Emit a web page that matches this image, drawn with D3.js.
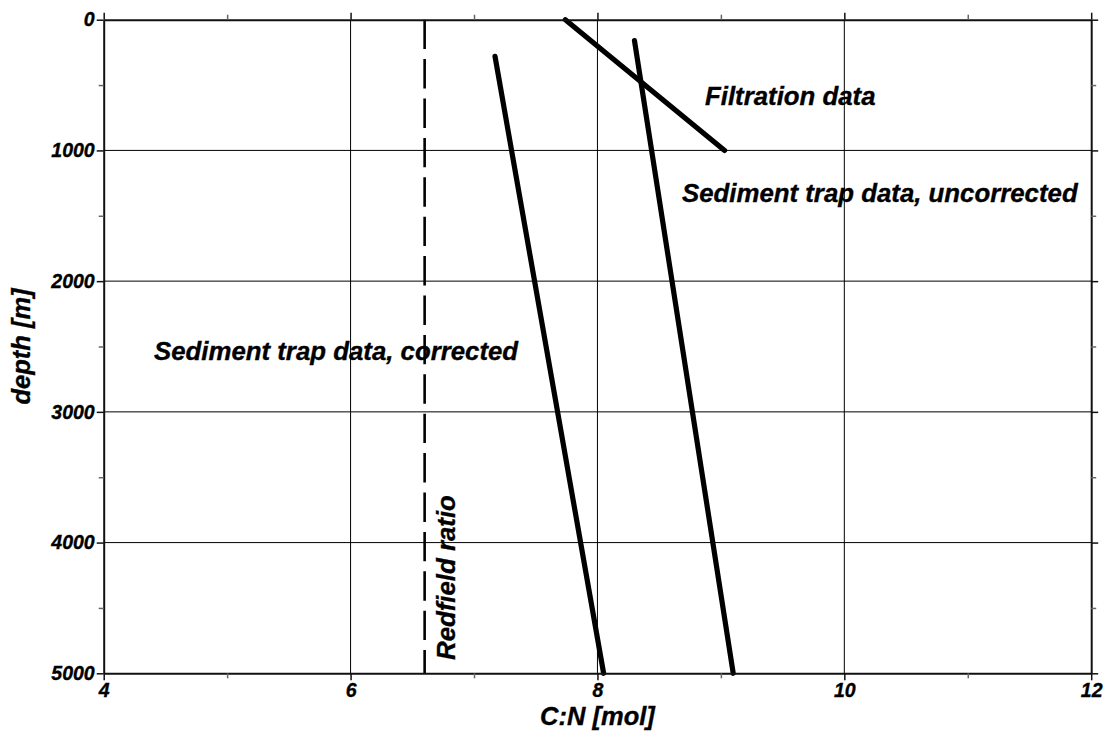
<!DOCTYPE html>
<html>
<head>
<meta charset="utf-8">
<script src="https://cdn.jsdelivr.net/npm/d3@7"></script>
<style>
  html, body { margin: 0; padding: 0; background: #ffffff; }
  svg { display: block; }
  text { font-family: "Liberation Sans", Arial, sans-serif; font-weight: bold; font-style: italic; fill: #000; stroke: #000; stroke-width: 0.35px; }
</style>
</head>
<body>
<svg id="chart" width="1106" height="737"></svg>
<script>
// ---- data ----
const xMajorTicks = [4, 6, 8, 10, 12];
const xMinorTicks = [5, 7, 9, 11];
const yMajorTicks = [0, 1000, 2000, 3000, 4000, 5000];
const yMinorTicks = [500, 1500, 2500, 3500, 4500];
const xGrid = [6, 8, 10];
const yGrid = [1000, 2000, 3000, 4000];

// lines: [C:N ratio, depth]
const filtration = [[7.74, 0], [9.03, 1000]];
const trapUncorrected = [[8.30, 160], [9.10, 5000]];
const trapCorrected = [[7.17, 280], [8.05, 5000]];
const redfield = [[6.6, 0], [6.6, 5000]];

const labelTexts = ["Filtration data", "Sediment trap data, uncorrected", "Sediment trap data, corrected", "Redfield ratio"];
const xTitle = "C:N [mol]";
const yTitle = "depth [m]";

// ---- layout ----
const svg = d3.select("#chart");
const mLeft = 103.7, mRight = 1091.2, mTop = 19.7, mBottom = 673.3;

const x = d3.scaleLinear().domain([4, 12]).range([mLeft, mRight]);
const y = d3.scaleLinear().domain([0, 5000]).range([mTop, mBottom]);

// gridlines
const grid = svg.append("g");
grid.selectAll("line.gx").data(xGrid).enter().append("line")
  .attr("x1", d => x(d)).attr("x2", d => x(d))
  .attr("y1", mTop).attr("y2", mBottom)
  .attr("stroke", "#000").attr("stroke-width", 1);
grid.selectAll("line.gy").data(yGrid).enter().append("line")
  .attr("x1", mLeft).attr("x2", mRight)
  .attr("y1", d => y(d)).attr("y2", d => y(d))
  .attr("stroke", "#000").attr("stroke-width", 1);

// data lines
const line = d3.line().x(d => x(d[0])).y(d => y(d[1]));
svg.append("path").attr("d", line(redfield))
  .attr("fill", "none").attr("stroke", "#000").attr("stroke-width", 2.6)
  .attr("stroke-dasharray", "29.4,10");
[filtration, trapUncorrected, trapCorrected].forEach(s => {
  svg.append("path").attr("d", line(s))
    .attr("fill", "none").attr("stroke", "#000").attr("stroke-width", 5.2)
    .attr("stroke-linecap", "round");
});

// axes
function styleAxis(g, minor) {
  g.select(".domain").attr("stroke", "#111").attr("stroke-width", 2);
  g.selectAll(".tick line").attr("stroke", minor ? "#666" : "#111").attr("stroke-width", 1.5);
  g.selectAll(".tick text").style("font-size", "19.5px").attr("fill", "#000");
}
// bottom
svg.append("g").attr("transform", `translate(0,${mBottom})`)
  .call(d3.axisBottom(x).tickValues(xMajorTicks).tickSizeInner(7).tickSizeOuter(0).tickPadding(3).tickFormat(d3.format("d")))
  .call(g => styleAxis(g, false));
svg.append("g").attr("transform", `translate(0,${mBottom})`)
  .call(d3.axisBottom(x).tickValues(xMinorTicks).tickSizeInner(5).tickSizeOuter(0).tickFormat(""))
  .call(g => { g.select(".domain").remove(); styleAxis(g, true); });
// top
svg.append("g").attr("transform", `translate(0,${mTop})`)
  .call(d3.axisTop(x).tickValues(xMajorTicks).tickSizeInner(7).tickSizeOuter(0).tickFormat(""))
  .call(g => styleAxis(g, false));
svg.append("g").attr("transform", `translate(0,${mTop})`)
  .call(d3.axisTop(x).tickValues(xMinorTicks).tickSizeInner(5).tickSizeOuter(0).tickFormat(""))
  .call(g => { g.select(".domain").remove(); styleAxis(g, true); });
// left
svg.append("g").attr("transform", `translate(${mLeft},0)`)
  .call(d3.axisLeft(y).tickValues(yMajorTicks).tickSizeInner(7).tickSizeOuter(0).tickPadding(2).tickFormat(d3.format("d")))
  .call(g => styleAxis(g, false));
svg.append("g").attr("transform", `translate(${mLeft},0)`)
  .call(d3.axisLeft(y).tickValues(yMinorTicks).tickSizeInner(5).tickSizeOuter(0).tickFormat(""))
  .call(g => { g.select(".domain").remove(); styleAxis(g, true); });
// right
svg.append("g").attr("transform", `translate(${mRight},0)`)
  .call(d3.axisRight(y).tickValues(yMajorTicks).tickSizeInner(7).tickSizeOuter(0).tickFormat(""))
  .call(g => styleAxis(g, false));
svg.append("g").attr("transform", `translate(${mRight},0)`)
  .call(d3.axisRight(y).tickValues(yMinorTicks).tickSizeInner(5).tickSizeOuter(0).tickFormat(""))
  .call(g => { g.select(".domain").remove(); styleAxis(g, true); });

// axis titles
svg.append("text").attr("x", (mLeft + mRight) / 2).attr("y", 725)
  .attr("text-anchor", "middle").style("font-size", "25.5px").text(xTitle);
svg.append("text").attr("transform", `translate(30,${(mTop + mBottom) / 2}) rotate(-90)`)
  .attr("text-anchor", "middle").style("font-size", "25.5px").text(yTitle);

// annotations
const fs = "25.8px";
svg.append("text").attr("x", 705).attr("y", 105).style("font-size", fs).text(labelTexts[0]);
svg.append("text").attr("x", 682).attr("y", 202).style("font-size", fs).text(labelTexts[1]);
svg.append("text").attr("x", 154).attr("y", 360).style("font-size", fs).text(labelTexts[2]);
svg.append("text").attr("transform", `translate(455,660) rotate(-90)`)
  .style("font-size", fs).text(labelTexts[3]);
</script>
</body>
</html>
